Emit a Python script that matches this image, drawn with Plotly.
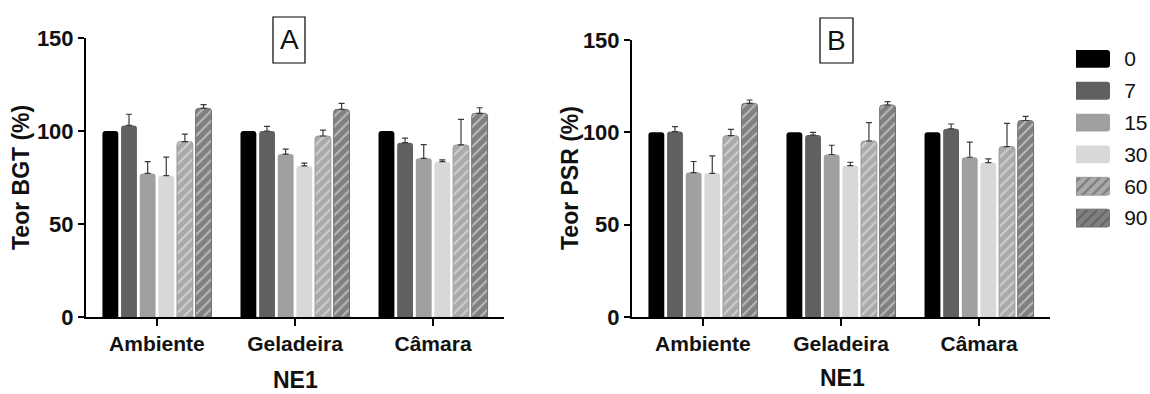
import plotly.graph_objects as go

# Storage conditions and storage days
categories = ["Ambiente", "Geladeira", "Câmara"]
days = ["0", "7", "15", "30", "60", "90"]

# Teor BGT (%) — mean and upper SD per storage condition, ordered by day
bgt_ambiente = [100, 103, 77.2, 76, 94.3, 112.2]
bgt_ambiente_sd = [0, 6, 6.3, 10, 4, 2]
bgt_geladeira = [100, 100, 87.6, 81.2, 97.3, 111.6]
bgt_geladeira_sd = [0, 2.5, 2.7, 1.5, 3.2, 3.3]
bgt_camara = [100, 93.7, 85.3, 83.5, 92.5, 109.5]
bgt_camara_sd = [0, 2.5, 7.4, 1, 13.8, 3]

# Teor PSR (%)
psr_ambiente = [100, 100.4, 78.2, 77.8, 98.2, 115.7]
psr_ambiente_sd = [0, 2.7, 6, 9.4, 3.4, 1.8]
psr_geladeira = [100, 98.5, 88, 82, 95.3, 114.8]
psr_geladeira_sd = [0, 1.5, 5, 1.8, 10, 1.8]
psr_camara = [100, 101.9, 86.5, 83.6, 92.3, 106.4]
psr_camara_sd = [0, 2.6, 8.2, 2, 12.5, 2.2]

y_ticks = [0, 50, 100, 150]

# Styling per storage day
colors = ["#000000", "#606060", "#a0a0a0", "#d8d8d8", "#aaaaaa", "#808080"]
line_colors = ["#000000", "#606060", "#a0a0a0", "#d8d8d8", "#999999", "#707070"]
patterns = ["", "", "", "", "/", "/"]

FONT = "Liberation Sans, Arial, sans-serif"
W, H = 1150, 394


def px(x):
    return x / W


def py(y):
    return 1 - y / H


fig = go.Figure()


def add_panel(means, sds, xa, ya):
    for i, d in enumerate(days):
        y = [m[i] for m in means]
        e = [s[i] for s in sds]
        fig.add_trace(go.Bar(
            x=categories, y=y, name=d, xaxis=xa, yaxis=ya, showlegend=False,
            marker=dict(
                color=colors[i],
                line=dict(color=line_colors[i], width=1 if patterns[i] else 0),
                pattern=dict(shape=patterns[i], fgcolor="#f4f4f4",
                             size=7, solidity=0.28),
            ),
            error_y=dict(type="data", symmetric=False, array=e,
                         arrayminus=[0] * len(e), visible=any(v > 0 for v in e),
                         color="#3a3a3a", thickness=1.2, width=3),
        ))


add_panel([bgt_ambiente, bgt_geladeira, bgt_camara],
          [bgt_ambiente_sd, bgt_geladeira_sd, bgt_camara_sd], "x", "y")
add_panel([psr_ambiente, psr_geladeira, psr_camara],
          [psr_ambiente_sd, psr_geladeira_sd, psr_camara_sd], "x2", "y2")

# Legend keys drawn as swatch bars with the day labels beside them
fig.add_trace(go.Bar(
    y=days, x=[1] * len(days), orientation="h", width=0.56,
    xaxis="x3", yaxis="y3", showlegend=False, hoverinfo="y",
    marker=dict(color=colors,
                line=dict(color=line_colors, width=[1 if p else 0 for p in patterns]),
                pattern=dict(shape=patterns, fgcolor="#f4f4f4", size=7, solidity=0.28)),
))

xcommon = dict(type="category", range=[-0.514, 2.514], showline=True,
               linecolor="black", linewidth=2, ticks="outside", ticklen=7,
               tickwidth=2, tickcolor="black", showgrid=False, zeroline=False,
               automargin=False,
               tickfont=dict(family=FONT, size=21, color="#111111", weight="bold"))
ycommon = dict(range=[0, 150], tickvals=y_ticks, showline=True, linecolor="black",
               linewidth=2, ticks="outside", ticklen=6, tickwidth=2,
               tickcolor="black", showgrid=False, zeroline=False, automargin=False,
               tickfont=dict(family=FONT, size=22, color="#111111", weight="bold"))

fig.update_layout(
    width=W, height=H, margin=dict(l=0, r=0, t=0, b=0, autoexpand=False),
    paper_bgcolor="white", plot_bgcolor="white",
    barmode="group", bargap=0.19, bargroupgap=0.15, barcornerradius=3,
    font=dict(family=FONT, color="#111111"),
    xaxis=dict(xcommon, domain=[px(86), px(504)], anchor="y"),
    yaxis=dict(ycommon, domain=[py(317), py(38)], anchor="x"),
    xaxis2=dict(xcommon, domain=[px(632), px(1050)], anchor="y2"),
    yaxis2=dict(ycommon, domain=[py(317), py(40)], anchor="x2"),
    xaxis3=dict(domain=[px(1076), px(1110)], range=[0, 1], visible=False,
                anchor="y3", automargin=False),
    yaxis3=dict(domain=[py(234), py(43)], anchor="x3", type="category",
                autorange="reversed", side="right", showline=False,
                showgrid=False, zeroline=False, ticks="outside", ticklen=9,
                tickcolor="rgba(0,0,0,0)", automargin=False,
                tickfont=dict(family=FONT, size=21, color="#111111")),
)

bold = dict(family=FONT, size=23, color="#111111")
titles = [
    ("<b>Teor BGT (%)</b>", 21, 178, -90),
    ("<b>Teor PSR (%)</b>", 570, 178, -90),
    ("<b>NE1</b>", 295, 380, 0),
    ("<b>NE1</b>", 842, 378, 0),
]
for text, x, y, angle in titles:
    fig.add_annotation(text=text, x=px(x), y=py(y), xref="paper", yref="paper",
                       xanchor="center", yanchor="middle", textangle=angle,
                       showarrow=False, font=bold)

# Boxed panel letters
for letter, x0, x1, y0, y1 in [("A", 273, 305, 17, 63), ("B", 820, 853, 18, 63)]:
    fig.add_shape(type="rect", xref="paper", yref="paper", x0=px(x0), x1=px(x1),
                  y0=py(y1), y1=py(y0), line=dict(color="black", width=1.2))
    fig.add_annotation(text=letter, x=px((x0 + x1) / 2), y=py((y0 + y1) / 2),
                       xref="paper", yref="paper", xanchor="center",
                       yanchor="middle", showarrow=False,
                       font=dict(family=FONT, size=28, color="#111111"))

fig.write_html("out.html")
